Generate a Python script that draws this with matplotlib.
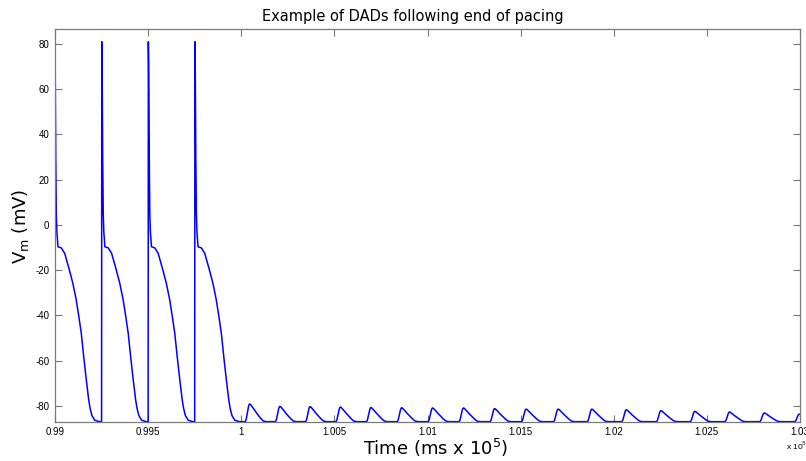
import numpy as np
import matplotlib
matplotlib.use("Agg")
import matplotlib.pyplot as plt

# Paced action potentials: upstroke times (ms)
ap_onsets_ms = [98998, 99250, 99500, 99750]

# Action potential waveform: time after upstroke (ms) and membrane potential (mV)
ap_offset_ms = [0, 0.6, 1.2, 3, 6, 9, 12, 18, 36, 54, 77, 98, 116, 130, 143,
                156, 170, 183, 190, 200, 215, 240]
ap_vm = [-87.05, 0, 81, 70, 30, 5, -3, -9.7, -10.2, -12.6, -19.3, -25.9, -33.2,
         -40.6, -47.9, -58.2, -68.5, -77.4, -81.0, -84.3, -86.4, -87.05]

# Delayed afterdepolarizations after pacing stops: peak times (ms) and peak Vm (mV)
dad_peak_ms = [100045, 100207, 100369, 100532, 100696, 100861, 101027, 101193,
               101360, 101529, 101701, 101882, 102067, 102253, 102435, 102621,
               102808, 102996]
dad_peak_vm = [-79.2, -80.3, -80.4, -80.6, -80.8, -80.9, -81.0, -81.0, -81.3,
               -81.5, -81.5, -81.5, -81.8, -82.2, -82.5, -82.8, -83.2, -83.7]

# DAD waveform: time relative to peak (ms) and fraction of peak depolarization
dad_offset_ms = [-23, -18, -12, -6, -3, 0, 5, 10, 20, 31, 45, 57, 67, 75, 90]
dad_fraction = [0, 0.15, 0.5, 0.85, 0.96, 1.0, 0.97, 0.9, 0.75, 0.58, 0.38,
                0.22, 0.1, 0.03, 0]

rest_vm = -87.05

xtick_vals = [0.99, 0.995, 1.0, 1.005, 1.01, 1.015, 1.02, 1.025, 1.03]
xtick_labels = ["0.99", "0.995", "1", "1.005", "1.01", "1.015", "1.02",
                "1.025", "1.03"]
ytick_vals = [-80, -60, -40, -20, 0, 20, 40, 60, 80]

# Assemble the membrane potential trace
t_parts, v_parts = [], []
for onset in ap_onsets_ms:
    t_parts.append(onset + np.asarray(ap_offset_ms, float))
    v_parts.append(np.asarray(ap_vm, float))
for tp, vp in zip(dad_peak_ms, dad_peak_vm):
    t_parts.append(tp + np.asarray(dad_offset_ms, float))
    v_parts.append(rest_vm + (vp - rest_vm) * np.asarray(dad_fraction, float))
t = np.concatenate(t_parts) / 1e5
v = np.concatenate(v_parts)

W, H = 806, 461
fig = plt.figure(figsize=(W / 100, H / 100), dpi=100)
ax = fig.add_axes([55 / W, 1 - 422 / H, 745 / W, (422 - 29.3) / H])

ax.plot(t, v, color="#0000ff", lw=1.1)

ax.set_xlim(0.99, 1.03)
ax.set_ylim(-87.2, 86.5)
ax.set_xticks(xtick_vals)
ax.set_xticklabels(xtick_labels)
ax.set_yticks(ytick_vals)
ax.set_yticklabels([str(y) for y in ytick_vals])

spine_col = "#7a7a7a"
for s in ax.spines.values():
    s.set_color(spine_col)
    s.set_linewidth(0.9)
ax.tick_params(direction="in", length=5, width=0.8, color=spine_col,
               top=True, right=True, labelsize=7, labelcolor="black")
ax.tick_params(axis="x", pad=3.5)
ax.tick_params(axis="y", pad=4)
for lab in ax.get_xticklabels() + ax.get_yticklabels():
    lab.set_family("Liberation Sans")

fig.text(413 / W, 1 - 21 / H, "Example of DADs following end of pacing",
         ha="center", va="baseline", fontsize=10.5, family="DejaVu Sans")
fig.text(436 / W, 1 - 455 / H, "Time (ms x 10$^5$)", ha="center",
         va="baseline", fontsize=13, family="DejaVu Sans")
fig.text(31 / W, 1 - 226 / H, "V$_\\mathregular{m}$ (mV)", rotation=90,
         ha="right", va="center", fontsize=13, family="DejaVu Sans")
fig.text(786 / W, 1 - 450 / H, "x 10$^5$", ha="left", va="baseline",
         fontsize=6, family="Liberation Sans")

fig.savefig("out.png", dpi=100)
